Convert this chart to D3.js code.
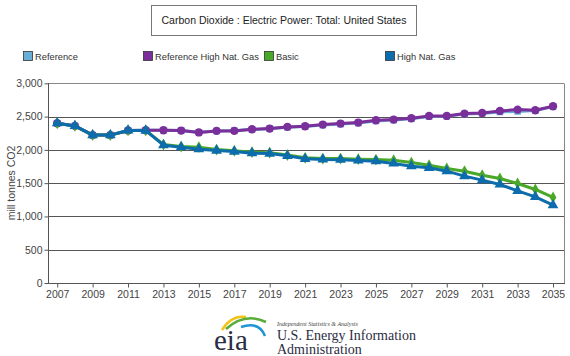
<!DOCTYPE html>
<html><head><meta charset="utf-8">
<script src="https://cdn.jsdelivr.net/npm/d3@7"></script>
<style>
body{margin:0;background:#fff;}
</style></head>
<body><svg id="c" width="570" height="356" font-family="Liberation Sans, Arial, sans-serif"></svg>
<script>
const title = "Carbon Dioxide : Electric Power: Total: United States";
const yLabel = "mill tonnes CO2";
const years = d3.range(2007, 2036);
const xTickYears = [2007,2009,2011,2013,2015,2017,2019,2021,2023,2025,2027,2029,2031,2033,2035];
const yTicks = [0,500,1000,1500,2000,2500,3000];
const seriesNames = ["Reference","Reference High Nat. Gas","Basic","High Nat. Gas"];
const seriesColors = ["#6aaed8","#7a2f9a","#4aa829","#0c6cac"];
const seriesMarkers = ["square","circle","diamond","triangle"];
const reference = [2400,2360,2222,2222,2292,2295,2295,2290,2263,2283,2290,2305,2318,2340,2352,2372,2388,2403,2435,2448,2468,2500,2505,2538,2548,2570,2578,2592,2650];
const refHighGas = [2400,2360,2222,2222,2292,2295,2295,2290,2262,2285,2285,2310,2320,2345,2355,2380,2395,2410,2445,2455,2475,2510,2510,2545,2555,2585,2605,2595,2655];
const basic = [2400,2360,2222,2222,2292,2292,2080,2050,2040,2005,1985,1965,1958,1922,1880,1870,1870,1860,1855,1845,1810,1770,1720,1680,1620,1570,1495,1405,1285];
const highGas = [2400,2360,2222,2222,2292,2290,2070,2040,2010,1990,1975,1950,1945,1910,1865,1855,1852,1842,1830,1795,1755,1730,1680,1605,1545,1480,1385,1295,1170];
const seriesValues = [reference, refHighGas, basic, highGas];

const svg = d3.select("#c");
const pL = 48, pR = 564, pT = 83.3, pB = 283;
const x = d3.scaleLinear().domain([2006.48, 2035.62]).range([pL, pR]);
const y = d3.scaleLinear().domain([0, 3000]).range([pB, pT]);

// title box
svg.append("rect").attr("x",151.5).attr("y",5.5).attr("width",265).attr("height",30)
  .attr("fill","#fff").attr("stroke","#777").attr("stroke-width",1);
svg.append("text").attr("x",284).attr("y",24).attr("text-anchor","middle")
  .attr("font-size",10.5).attr("fill","#222").text(title);

// legend
const legendX = [23, 143, 264, 385];
seriesNames.forEach((n,i)=>{
  const g = svg.append("g").attr("transform",`translate(${legendX[i]},51)`);
  g.append("rect").attr("x",0.5).attr("y",0.5).attr("width",9).attr("height",9)
    .attr("fill",seriesColors[i]).attr("stroke","#333").attr("stroke-width",0.8);
  g.append("text").attr("x",12).attr("y",9).attr("font-size",9.3).attr("fill","#333").text(n);
});

// gridlines
svg.append("g").selectAll("line").data(yTicks.filter(d=>d>0)).join("line")
  .attr("x1",pL).attr("x2",pR).attr("y1",d=>Math.round(y(d))+0.5).attr("y2",d=>Math.round(y(d))+0.5)
  .attr("stroke",d=>d===3000?"#888":"#555").attr("stroke-width",1);
svg.append("line").attr("x1",pR+0.5).attr("x2",pR+0.5).attr("y1",Math.round(pT)+0.5).attr("y2",pB)
  .attr("stroke","#888");

// axes
const yAxis = d3.axisLeft(y).tickValues(yTicks).tickSize(4).tickPadding(2).tickFormat(d3.format(","));
const ya = svg.append("g").attr("transform",`translate(${pL+0.5},0)`).call(yAxis);
ya.attr("font-family",null);
ya.select(".domain").attr("stroke","#555").attr("d",`M0,${Math.round(pT)}V${pB+0.5}`);
ya.selectAll(".tick line").attr("stroke","#555");
ya.selectAll(".tick text").attr("font-size",10.5).attr("fill","#444");

const xAxis = d3.axisBottom(x).tickValues(xTickYears).tickSize(4).tickPadding(3).tickFormat(d3.format("d"));
const xa = svg.append("g").attr("transform",`translate(0,${pB+0.5})`).call(xAxis);
xa.attr("font-family",null);
xa.select(".domain").attr("stroke","#555").attr("d",`M${pL},0H${pR+1}`);
xa.selectAll(".tick line").attr("stroke","#555");
xa.selectAll(".tick text").attr("font-size",10.5).attr("fill","#444");

svg.append("text").attr("transform","translate(15,183) rotate(-90)").attr("text-anchor","middle")
  .attr("font-size",10.5).attr("fill","#444").text(yLabel);

// lines
const line = d3.line().x((d,i)=>x(years[i])).y(d=>y(d));
const symType = {square:d3.symbolSquare, circle:d3.symbolCircle, diamond:d3.symbolDiamond, triangle:d3.symbolTriangle};
const symSize = {square:45, circle:55, diamond:40, triangle:50};
[0,1,2,3].forEach(i=>{
  const vals = seriesValues[i];
  svg.append("path").datum(vals).attr("d",line).attr("fill","none")
    .attr("stroke",seriesColors[i]).attr("stroke-width",3).attr("stroke-linejoin","round");
  svg.append("g").selectAll("path").data(vals).join("path")
    .attr("transform",(d,j)=>`translate(${x(years[j])},${y(d)})`)
    .attr("d",d3.symbol().type(symType[seriesMarkers[i]]).size(symSize[seriesMarkers[i]]))
    .attr("fill",seriesColors[i]);
});

// EIA logo
const logo = svg.append("g");
logo.append("path").attr("d","M222,330 Q231,315 246,317").attr("fill","none").attr("stroke","#f2c318").attr("stroke-width",2.5);
logo.append("path").attr("d","M226,329 Q245,312 266,322").attr("fill","none").attr("stroke","#5aac3a").attr("stroke-width",2.5);
logo.append("path").attr("d","M241,327 Q259,321 265,336").attr("fill","none").attr("stroke","#1e96d4").attr("stroke-width",2.5);
const serif = "Liberation Serif, Times New Roman, serif";
logo.append("text").attr("x",214).attr("y",350).attr("font-family",serif)
  .attr("font-size",29).attr("fill","#2b2d42").text("eia");
logo.append("text").attr("x",277).attr("y",326).attr("font-family",serif).attr("font-style","italic")
  .attr("font-size",6).attr("fill","#444").text("Independent Statistics & Analysis");
logo.append("text").attr("x",277).attr("y",340).attr("font-family",serif)
  .attr("font-size",14).attr("fill","#2b2d42").text("U.S. Energy Information");
logo.append("text").attr("x",277).attr("y",353.5).attr("font-family",serif)
  .attr("font-size",14).attr("fill","#2b2d42").text("Administration");
</script></body></html>
